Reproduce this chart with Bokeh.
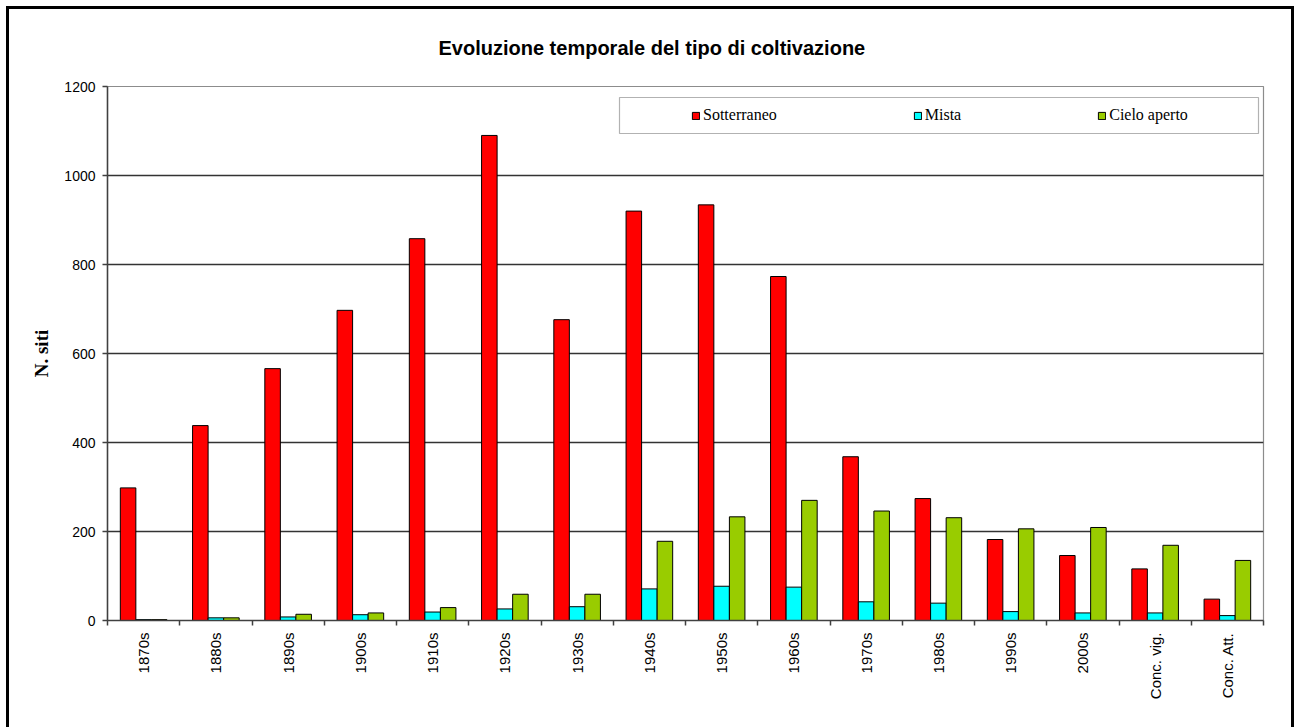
import math

from bokeh.embed import file_html
from bokeh.models import (BoxAnnotation, ColumnDataSource, FixedTicker, Legend,
                          LegendItem, Range1d)
from bokeh.plotting import figure
from bokeh.resources import INLINE
from bokeh.transform import dodge

# ---- data -----------------------------------------------------------------
periods = ["1870s", "1880s", "1890s", "1900s", "1910s", "1920s", "1930s",
           "1940s", "1950s", "1960s", "1970s", "1980s", "1990s", "2000s",
           "Conc. vig.", "Conc. Att."]
sotterraneo = [298, 438, 566, 697, 858, 1090, 676, 920, 934, 773, 368, 274,
               182, 146, 116, 48]
mista = [2, 6, 8, 13, 19, 26, 31, 71, 77, 75, 42, 39, 20, 17, 17, 11]
cielo_aperto = [2, 6, 14, 17, 29, 59, 59, 178, 233, 270, 246, 231, 206, 209,
                169, 135]
y_ticks = [0, 200, 400, 600, 800, 1000, 1200]
title_text = "Evoluzione temporale del tipo di coltivazione"

# ---- layout ---------------------------------------------------------------
# the chart sits inside a black frame offset from the page corner; the
# canvas starts just inside the top-left border
OFF, BORDER = 6, 3
W = 1296 - 2 * OFF + 4                   # element width
H = 727 - OFF                            # element height
CANVAS_X0 = OFF + BORDER
CANVAS_Y0 = OFF + BORDER

# plot frame in page pixels
FRAME_L, FRAME_R, FRAME_T, FRAME_B = 107, 1263, 86, 620
n = len(periods)
y_max = y_ticks[-1]
frame_w = FRAME_R - FRAME_L
frame_h = FRAME_B - FRAME_T

SANS = "Liberation Sans"
SERIF = "Liberation Serif"

centers = [i + 0.5 for i in range(n)]
bounds = [float(i) for i in range(n + 1)]

src = ColumnDataSource(dict(x=centers, sott=sotterraneo, mista=mista,
                            cielo=cielo_aperto))

p = figure(width=W, height=H, x_range=Range1d(0, n), y_range=Range1d(0, y_max),
           output_backend="svg", toolbar_location=None,
           min_border_left=FRAME_L - CANVAS_X0,
           min_border_right=CANVAS_X0 + W - FRAME_R,
           min_border_top=FRAME_T - CANVAS_Y0,
           min_border_bottom=CANVAS_Y0 + H - FRAME_B,
           background_fill_color="white", border_fill_color="white")
p.margin = (OFF, 0, 0, OFF)
p.styles = {"border-left": f"{BORDER}px solid black",
            "border-top": f"{BORDER}px solid black",
            "border-right": f"{BORDER}px solid black"}

# chart title, left edge placed so that it is centred on the page
TITLE_LEFT = 438
p.title.text = title_text
p.title.align = "left"
p.title.vertical_align = "top"
p.title.offset = TITLE_LEFT - FRAME_L
p.title.standoff = 52
p.title.text_font = SANS
p.title.text_font_style = "bold"
p.title.text_font_size = "20px"
p.title.text_color = "black"

# bars
bw = 0.215
r_sott = p.vbar(x=dodge("x", -bw, range=p.x_range), top="sott", width=bw,
                source=src, fill_color="#FF0000", line_color="black",
                line_width=1)
r_mista = p.vbar(x="x", top="mista", width=bw, source=src,
                 fill_color="#00FFFF", line_color="black", line_width=1)
r_cielo = p.vbar(x=dodge("x", bw, range=p.x_range), top="cielo", width=bw,
                 source=src, fill_color="#99CC00", line_color="black",
                 line_width=1)

# axes
xa = p.xaxis[0]
xa.ticker = FixedTicker(ticks=centers, minor_ticks=bounds)
xa.major_label_overrides = {c: lab for c, lab in zip(centers, periods)}
xa.major_label_orientation = math.pi / 2
xa.major_tick_out = 0
xa.major_tick_in = 0
xa.minor_tick_out = 5
xa.minor_tick_in = 0
xa.minor_tick_line_color = "#404040"
xa.minor_tick_line_width = 1.5
xa.axis_line_color = "#404040"
xa.axis_line_width = 1.5
xa.major_label_text_font = SANS
xa.major_label_text_font_size = "15px"
xa.major_label_text_color = "black"
xa.major_label_standoff = 7

ya = p.yaxis[0]
ya.ticker = FixedTicker(ticks=y_ticks)
ya.major_tick_out = 5
ya.major_tick_in = 0
ya.minor_tick_out = 0
ya.minor_tick_in = 0
ya.major_tick_line_color = "#404040"
ya.major_tick_line_width = 1.5
ya.axis_line_color = "#404040"
ya.axis_line_width = 1.5
ya.major_label_text_font = SANS
ya.major_label_text_font_size = "14px"
ya.major_label_text_color = "black"
ya.major_label_standoff = 7
ya.axis_label = "N. siti"
ya.axis_label_text_font = SERIF
ya.axis_label_text_font_style = "bold"
ya.axis_label_text_font_size = "19px"
ya.axis_label_text_color = "black"
ya.axis_label_standoff = 9

# grid and frame
p.xgrid.visible = False
p.ygrid.ticker = FixedTicker(ticks=y_ticks[1:-1])
p.ygrid.grid_line_color = "#333333"
p.ygrid.grid_line_width = 1.3
p.outline_line_color = "#8c8c8c"
p.outline_line_width = 1.2

# legend box (page pixel layout converted to data units)
LEG_L, LEG_R, LEG_T, LEG_B = 619, 1258, 97, 133


def px_to_x(px):
    return (px - FRAME_L) / frame_w * n


def py_to_y(py):
    return (FRAME_B - py) / frame_h * y_max


legend_box = BoxAnnotation(left=px_to_x(LEG_L), right=px_to_x(LEG_R),
                           top=py_to_y(LEG_T), bottom=py_to_y(LEG_B),
                           fill_color="white", fill_alpha=1.0,
                           line_color="black", line_width=1.2,
                           level="annotation")
p.add_layout(legend_box)

legend = Legend(items=[LegendItem(label="Sotterraneo", renderers=[r_sott]),
                       LegendItem(label="Mista", renderers=[r_mista]),
                       LegendItem(label="Cielo aperto", renderers=[r_cielo])],
                orientation="horizontal",
                location=(691 - FRAME_L, FRAME_B - 124),
                padding=0, margin=0, spacing=136,
                glyph_width=9, glyph_height=9, label_standoff=3,
                label_height=18,
                label_text_font=SERIF, label_text_font_size="16px",
                label_text_color="black",
                border_line_alpha=0, background_fill_alpha=0)
p.add_layout(legend)

with open("out.html", "w") as f:
    f.write(file_html(p, INLINE))
